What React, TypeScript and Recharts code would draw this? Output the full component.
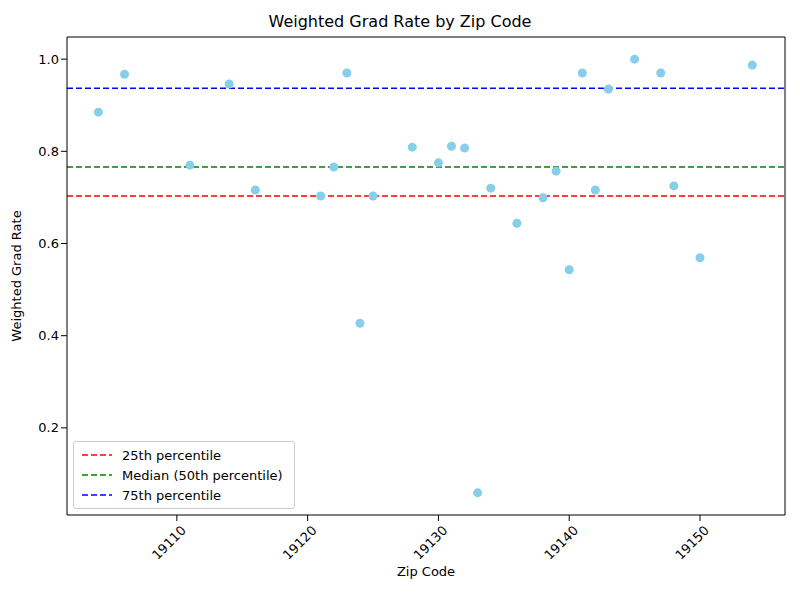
import React from "react";
import { ScatterChart, Scatter, XAxis, YAxis, ReferenceLine, Label } from "recharts";

const zips = [19104,19106,19111,19114,19116,19121,19122,19123,19124,19125,19128,19130,19131,19132,19133,19134,19136,19138,19139,19140,19141,19142,19143,19145,19147,19148,19150,19154];
const rates = [0.885,0.967,0.770,0.946,0.716,0.703,0.766,0.970,0.427,0.703,0.809,0.775,0.811,0.807,0.059,0.720,0.644,0.699,0.757,0.543,0.970,0.716,0.935,1.0,0.970,0.725,0.569,0.987];
const xTicks = [19110,19120,19130,19140,19150];
const yTicks = [0.2,0.4,0.6,0.8,1.0];
const p25 = 0.703, p50 = 0.766, p75 = 0.937;
const data = zips.map((z, i) => ({ zip: z, rate: rates[i] }));

const XTick = (props: any) => {
  const { x, y, payload } = props;
  return (
    <g transform={`translate(${x},${y + 4})`}>
      <text transform="rotate(-45)" textAnchor="end" dy={10} dx={4} fontSize={13} fill="#000">{payload.value}</text>
    </g>
  );
};

const legendItems = [
  { c: "red", t: "25th percentile" },
  { c: "green", t: "Median (50th percentile)" },
  { c: "blue", t: "75th percentile" },
];

export default function App() {
  return (
    <div style={{ position: "absolute", left: 0, top: 0, width: 800, height: 600, fontFamily: "DejaVu Sans", background: "#fff" }}>
      <div style={{ position: "absolute", top: 12, width: 800, textAlign: "center", fontSize: 16 }}>Weighted Grad Rate by Zip Code</div>
      <ScatterChart width={800} height={600} margin={{ top: 37, right: 15, bottom: 55, left: 0 }}>
        <XAxis type="number" dataKey="zip" height={30} domain={[19101.6, 19156.5]} ticks={xTicks} tick={<XTick />} stroke="#000" tickLine={{ stroke: "#000" }} allowDataOverflow>
          <Label value="Zip Code" position="bottom" offset={22} fill="#000" fontSize={13} />
        </XAxis>
        <YAxis type="number" dataKey="rate" width={67} domain={[0.011, 1.048]} ticks={yTicks} tickFormatter={(v: number) => v.toFixed(1)} stroke="#000" tick={{ fill: "#000", fontSize: 13 }} allowDataOverflow>
          <Label value="Weighted Grad Rate" angle={-90} position="insideLeft" offset={16} fill="#000" fontSize={13} style={{ textAnchor: "middle" }} />
        </YAxis>
        <ReferenceLine y={p25} stroke="red" strokeDasharray="6 3" strokeWidth={1.5} />
        <ReferenceLine y={p50} stroke="green" strokeDasharray="6 3" strokeWidth={1.5} />
        <ReferenceLine y={p75} stroke="blue" strokeDasharray="6 3" strokeWidth={1.5} />
        <Scatter data={data} fill="#87ceeb" isAnimationActive={false} shape={(p: any) => <circle cx={p.cx} cy={p.cy} r={4.5} fill="#87ceeb" />} />
        <line x1={67} y1={37} x2={785} y2={37} stroke="#000" />
        <line x1={785} y1={37} x2={785} y2={515} stroke="#000" />
      </ScatterChart>
      <div style={{ position: "absolute", left: 73, top: 441, width: 222, height: 68, border: "1px solid #ccc", borderRadius: 3, background: "rgba(255,255,255,0.8)", fontSize: 13, padding: "3px 0 0 8px", boxSizing: "border-box" }}>
        {legendItems.map((it) => (
          <div key={it.t} style={{ display: "flex", alignItems: "center", height: 20 }}>
            <svg width={30} height={10} style={{ marginRight: 10 }}><line x1={0} y1={5} x2={30} y2={5} stroke={it.c} strokeWidth={1.5} strokeDasharray="6 3" /></svg>
            {it.t}
          </div>
        ))}
      </div>
    </div>
  );
}
